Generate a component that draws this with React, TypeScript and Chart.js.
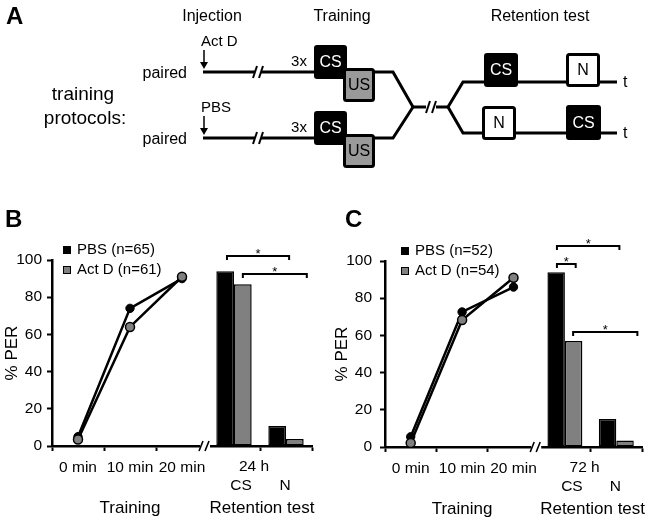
import React, { useEffect, useRef } from 'react';
import { Chart, registerables } from 'chart.js';

Chart.register(...registerables);

const FONT = '"Liberation Sans", Arial, Helvetica, sans-serif';

// ---------- data ----------
const categories = ['0 min', '10 min', '20 min', 'CS', 'N'];
const trainingCount = 3;
const seriesNames = ['PBS', 'Act D'];
const axisTitles = ['Training', 'Retention test'];
const yTitle = '% PER';
const yMin = 0;
const yMax = 100;
const yStep = 20;

// Panel B
const bTrainPBS = [5, 74, 90];
const bTrainActD = [3.5, 64, 91];
const bRetPBS = [94, 10.8];
const bRetActD = [87, 3.8];
const bN = [65, 61];
const bDelay = '24 h';
// significance brackets: [from category index, to category index, % PER level]
const bBrackets = [
  [2.865, 4.06, 102.2],
  [3.17, 4.4, 92.5],
];

// Panel C
const cTrainPBS = [5.5, 72.6, 86];
const cTrainActD = [2.2, 68.3, 91];
const cRetPBS = [94, 15];
const cRetActD = [57, 3.5];
const cN = [52, 54];
const cDelay = '72 h';
const cBrackets = [
  [2.845, 4.06, 108],
  [2.845, 3.21, 98.4],
  [3.16, 4.41, 61.8],
];

const PBS_COLOR = '#000000';
const ACTD_COLOR = '#808080';

// ---------- panel A diagram ----------
function Diagram() {
  const ref = useRef<HTMLCanvasElement>(null);
  useEffect(() => {
    const canvas = ref.current!;
    const plugin = {
      id: 'diagram',
      afterDraw(chart: any) {
        const ctx: CanvasRenderingContext2D = chart.ctx;
        ctx.save();
        const text = (t: string, x: number, y: number, font: string, align: CanvasTextAlign, color = '#000') => {
          ctx.font = font;
          ctx.fillStyle = color;
          ctx.textAlign = align;
          ctx.textBaseline = 'middle';
          ctx.fillText(t, x, y);
        };
        const rrect = (x: number, y: number, w: number, h: number, r: number) => {
          ctx.beginPath();
          if ((ctx as any).roundRect) (ctx as any).roundRect(x, y, w, h, r);
          else ctx.rect(x, y, w, h);
        };
        const line = (pts: number[][], w = 3) => {
          ctx.strokeStyle = '#000';
          ctx.lineWidth = w;
          ctx.lineJoin = 'miter';
          ctx.lineCap = 'butt';
          ctx.beginPath();
          ctx.moveTo(pts[0][0], pts[0][1]);
          for (let i = 1; i < pts.length; i++) ctx.lineTo(pts[i][0], pts[i][1]);
          ctx.stroke();
        };
        const brk = (bx: number, y: number) => {
          line([[bx - 5, y + 6], [bx - 1, y - 6]], 2);
          line([[bx + 1, y + 6], [bx + 5, y - 6]], 2);
        };
        const arrow = (x: number, y1: number, y2: number) => {
          line([[x, y1], [x, y2 - 5]], 1.5);
          ctx.fillStyle = '#000';
          ctx.beginPath();
          ctx.moveTo(x - 4, y2 - 7);
          ctx.lineTo(x + 4, y2 - 7);
          ctx.lineTo(x, y2);
          ctx.closePath();
          ctx.fill();
        };
        const blackBox = (x: number, y: number, w: number, h: number, label: string) => {
          ctx.fillStyle = '#000';
          rrect(x, y, w, h, 3);
          ctx.fill();
          text(label, x + w / 2, y + h / 2 + 1, `16px ${FONT}`, 'center', '#fff');
        };
        const outlineBox = (x: number, y: number, w: number, h: number, fill: string, label: string) => {
          ctx.fillStyle = fill;
          rrect(x + 1.5, y + 1.5, w - 3, h - 3, 2);
          ctx.fill();
          ctx.strokeStyle = '#000';
          ctx.lineWidth = 3;
          ctx.stroke();
          text(label, x + w / 2, y + h / 2 + 1, `16px ${FONT}`, 'center', '#000');
        };

        text('A', 6, 17, `bold 24px ${FONT}`, 'left');
        text('Injection', 212, 17, `16px ${FONT}`, 'center');
        text('Training', 342, 17, `16px ${FONT}`, 'center');
        text('Retention test', 540, 17, `16px ${FONT}`, 'center');
        text('training', 83, 95, `19px ${FONT}`, 'center');
        text('protocols:', 85, 119, `19px ${FONT}`, 'center');

        const rows = [
          { y: 72, drug: 'Act D' },
          { y: 138, drug: 'PBS' },
        ];
        const jx = 413;
        const jy = 107;
        rows.forEach((r) => {
          text(r.drug, 201, r.y - 30, `15px ${FONT}`, 'left');
          arrow(204, r.y - 22, r.y - 3);
          text('paired', 187, r.y + 2, `16px ${FONT}`, 'right');
          line([[203, r.y], [255, r.y]]);
          line([[261, r.y], [318, r.y]]);
          brk(258, r.y);
          text('3x', 299, r.y - 10, `15px ${FONT}`, 'center');
          line([[372, r.y], [393, r.y], [jx, jy]]);
          blackBox(314, r.y - 27, 33, 34, 'CS');
          outlineBox(343, r.y - 4, 32, 34, '#9a9a9a', 'US');
        });
        line([[jx, jy], [426, jy]]);
        line([[436, jy], [448, jy]]);
        brk(431, jy);
        line([[448, jy], [463, 82], [617, 82]]);
        line([[448, jy], [463, 133], [617, 133]]);
        blackBox(484, 53, 34, 34, 'CS');
        outlineBox(566, 53, 34, 34, '#fff', 'N');
        outlineBox(482, 106, 34, 34, '#fff', 'N');
        blackBox(566, 105, 35, 35, 'CS');
        text('t', 623, 83, `16px ${FONT}`, 'left');
        text('t', 623, 134, `16px ${FONT}`, 'left');
        ctx.restore();
      },
    };
    const chart = new Chart(canvas, {
      type: 'scatter',
      data: { datasets: [] },
      options: {
        animation: false,
        responsive: false,
        events: [],
        scales: { x: { display: false }, y: { display: false } },
        plugins: { legend: { display: false }, tooltip: { enabled: false } },
      },
      plugins: [plugin],
    } as any);
    return () => chart.destroy();
  }, []);
  return (
    <canvas
      ref={ref}
      width={650}
      height={192}
      style={{ position: 'absolute', left: 0, top: 0, width: 650, height: 192 }}
    />
  );
}

// ---------- panels B / C ----------
type PanelProps = {
  letter: string;
  trainPBS: number[];
  trainActD: number[];
  retPBS: number[];
  retActD: number[];
  n: number[];
  delay: string;
  brackets: number[][];
  left: number;
  top: number;
  letterX: number;
  padLeft: number;
  yWidth: number;
  padTop: number;
  padRight: number;
  xHeight: number;
  legendDx: number;
  yTickPad: number;
};

function Panel(p: PanelProps) {
  const ref = useRef<HTMLCanvasElement>(null);
  useEffect(() => {
    const canvas = ref.current!;
    const lineData = (vals: number[]) => [...vals, ...Array(categories.length - vals.length).fill(null)];
    const barData = (vals: number[]) => [...Array(trainingCount).fill(null), ...vals];
    const labels = seriesNames.map((s, i) => `${s} (n=${p.n[i]})`);
    const colors = [PBS_COLOR, ACTD_COLOR];

    const annot = {
      id: 'annot',
      afterDraw(chart: any) {
        const ctx: CanvasRenderingContext2D = chart.ctx;
        const ca = chart.chartArea;
        const x = chart.scales.x;
        const y = chart.scales.y;
        ctx.save();
        // axis break
        const bx = x.getPixelForValue(trainingCount - 0.5) - 4;
        ctx.fillStyle = '#fff';
        ctx.fillRect(bx - 4, ca.bottom - 3, 10, 10);
        ctx.strokeStyle = '#000';
        ctx.lineWidth = 1.6;
        ctx.beginPath();
        ctx.moveTo(bx - 5, ca.bottom + 5);
        ctx.lineTo(bx - 1, ca.bottom - 5);
        ctx.moveTo(bx + 1, ca.bottom + 5);
        ctx.lineTo(bx + 5, ca.bottom - 5);
        ctx.stroke();

        // legend
        const lx = ca.left + p.legendDx;
        labels.forEach((lab, i) => {
          const cy = ca.top + (i === 0 ? -10 : 10);
          ctx.fillStyle = colors[i];
          ctx.fillRect(lx, cy - 4, 8, 8);
          ctx.strokeStyle = '#000';
          ctx.lineWidth = 1;
          ctx.strokeRect(lx + 0.5, cy - 3.5, 7, 7);
          ctx.fillStyle = '#000';
          ctx.font = `15px ${FONT}`;
          ctx.textAlign = 'left';
          ctx.textBaseline = 'middle';
          ctx.fillText(lab, lx + 14, cy);
        });

        // retention labels and axis titles
        const xCS = x.getPixelForValue(trainingCount);
        const xN = x.getPixelForValue(trainingCount + 1);
        ctx.fillStyle = '#000';
        ctx.textAlign = 'center';
        ctx.textBaseline = 'middle';
        ctx.font = `15.5px ${FONT}`;
        ctx.fillText(p.delay, (xCS + xN) / 2 - 6, ca.bottom + 21);
        ctx.fillText(categories[trainingCount], xCS + 7, ca.bottom + 40);
        ctx.fillText(categories[trainingCount + 1], xN - 1, ca.bottom + 40);
        ctx.font = `17px ${FONT}`;
        ctx.fillText(axisTitles[0], x.getPixelForValue((trainingCount - 1) / 2), ca.bottom + 62);
        ctx.fillText(axisTitles[1], x.getPixelForValue(trainingCount + 0.5) + 2, ca.bottom + 62);

        // significance brackets
        ctx.strokeStyle = '#000';
        ctx.lineWidth = 2;
        p.brackets.forEach(([a, b, v]) => {
          const x1 = x.getPixelForValue(a);
          const x2 = x.getPixelForValue(b);
          const yy = y.getPixelForValue(v);
          ctx.beginPath();
          ctx.moveTo(x1, yy + 4);
          ctx.lineTo(x1, yy);
          ctx.lineTo(x2, yy);
          ctx.lineTo(x2, yy + 4);
          ctx.stroke();
          ctx.font = `13px ${FONT}`;
          ctx.textBaseline = 'alphabetic';
          ctx.fillText('*', (x1 + x2) / 2, yy + 2);
        });

        // panel letter
        ctx.font = `bold 24px ${FONT}`;
        ctx.textAlign = 'left';
        ctx.textBaseline = 'middle';
        ctx.fillText(p.letter, p.letterX, 25);
        ctx.restore();
      },
    };

    const chart = new Chart(canvas, {
      type: 'bar',
      data: {
        labels: categories,
        datasets: [
          {
            type: 'line',
            label: labels[0],
            data: lineData(p.trainPBS),
            borderColor: '#000',
            borderWidth: 2.5,
            pointRadius: 4.2,
            pointBackgroundColor: PBS_COLOR,
            pointBorderColor: '#000',
            pointBorderWidth: 1,
            order: 1,
          },
          {
            type: 'line',
            label: labels[1],
            data: lineData(p.trainActD),
            borderColor: '#000',
            borderWidth: 2.5,
            pointRadius: 4.5,
            pointBackgroundColor: ACTD_COLOR,
            pointBorderColor: '#000',
            pointBorderWidth: 1.5,
            order: 0,
          },
          {
            type: 'bar',
            label: labels[0],
            data: barData(p.retPBS),
            backgroundColor: PBS_COLOR,
            borderColor: '#000',
            borderWidth: 1.5,
            borderSkipped: false,
            categoryPercentage: 0.68,
            barPercentage: 1,
            order: 2,
          },
          {
            type: 'bar',
            label: labels[1],
            data: barData(p.retActD),
            backgroundColor: ACTD_COLOR,
            borderColor: '#000',
            borderWidth: 1.5,
            borderSkipped: false,
            categoryPercentage: 0.68,
            barPercentage: 1,
            order: 2,
          },
        ],
      },
      options: {
        animation: false,
        responsive: false,
        events: [],
        layout: { padding: { left: p.padLeft, right: p.padRight, top: p.padTop, bottom: 0 } },
        plugins: { legend: { display: false }, tooltip: { enabled: false } },
        scales: {
          x: {
            type: 'category',
            offset: true,
            grid: {
              display: true,
              offset: true,
              drawOnChartArea: false,
              drawTicks: true,
              tickLength: 5,
              tickWidth: 2,
              tickColor: '#000',
            },
            border: { display: true, color: '#000', width: 2.5 },
            ticks: {
              color: '#000',
              font: { size: 15.5, family: FONT },
              padding: 7,
              maxRotation: 0,
              autoSkip: false,
              callback: (_v: any, i: number) => (i < trainingCount ? categories[i] : ''),
            },
            afterFit: (s: any) => {
              s.height = p.xHeight;
            },
          },
          y: {
            min: yMin,
            max: yMax,
            ticks: { stepSize: yStep, color: '#000', font: { size: 15.5, family: FONT }, padding: p.yTickPad },
            grid: {
              display: true,
              drawOnChartArea: false,
              drawTicks: true,
              tickLength: 5,
              tickWidth: 2,
              tickColor: '#000',
            },
            border: { display: true, color: '#000', width: 2.5 },
            title: {
              display: true,
              text: yTitle,
              color: '#000',
              font: { size: 17, family: FONT },
              padding: { top: 2, bottom: 0 },
            },
            afterFit: (s: any) => {
              s.width = p.yWidth;
            },
          },
        },
      },
      plugins: [annot],
    } as any);
    return () => chart.destroy();
  }, []);
  return (
    <canvas
      ref={ref}
      width={325}
      height={323}
      style={{ position: 'absolute', left: p.left, top: p.top, width: 325, height: 323 }}
    />
  );
}

export default function App() {
  return (
    <div
      style={{
        position: 'fixed',
        left: 0,
        top: 0,
        width: 650,
        height: 518,
        background: '#fff',
        overflow: 'hidden',
      }}
    >
      <Diagram />
      <Panel
        letter="B"
        trainPBS={bTrainPBS}
        trainActD={bTrainActD}
        retPBS={bRetPBS}
        retActD={bRetActD}
        n={bN}
        delay={bDelay}
        brackets={bBrackets}
        left={0}
        top={195}
        letterX={5}
        padLeft={0}
        yWidth={52}
        padTop={65}
        padRight={13}
        xHeight={72}
        legendDx={11}
        yTickPad={5}
      />
      <Panel
        letter="C"
        trainPBS={cTrainPBS}
        trainActD={cTrainActD}
        retPBS={cRetPBS}
        retActD={cRetActD}
        n={cN}
        delay={cDelay}
        brackets={cBrackets}
        left={325}
        top={195}
        letterX={20}
        padLeft={5}
        yWidth={55}
        padTop={66}
        padRight={8}
        xHeight={71}
        legendDx={16}
        yTickPad={8}
      />
    </div>
  );
}
